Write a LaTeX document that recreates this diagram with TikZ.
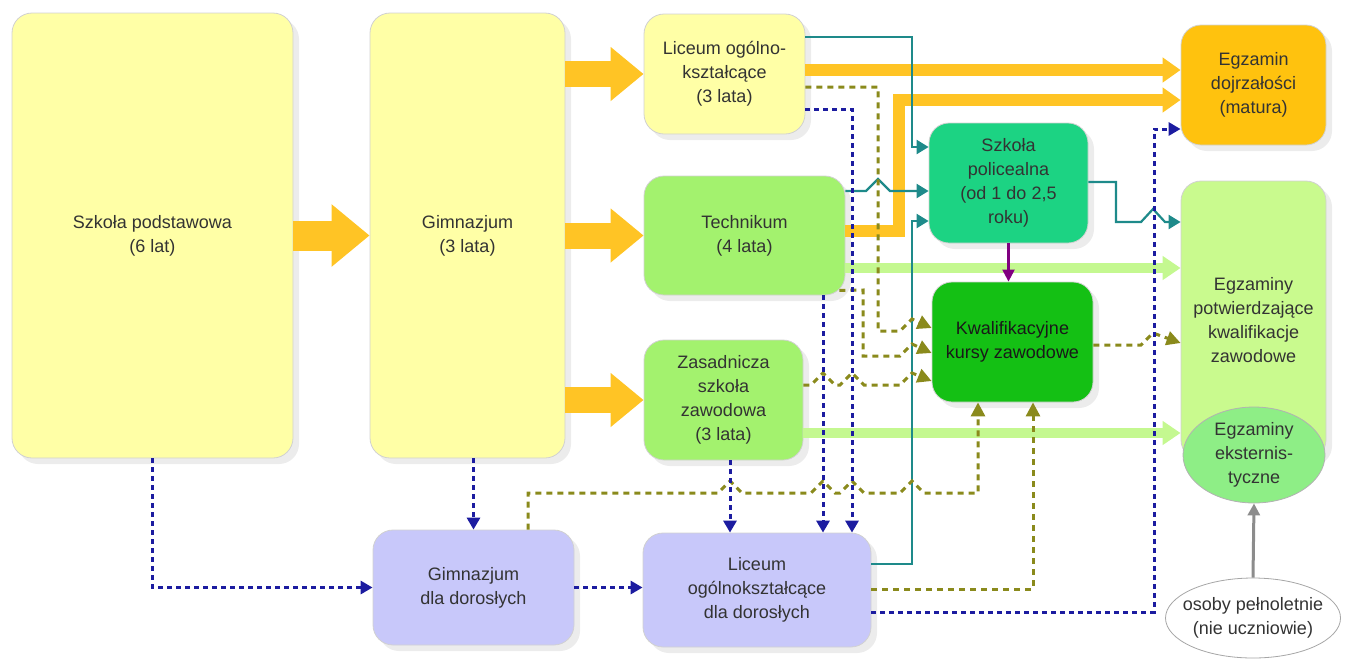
\documentclass[tikz,border=0pt]{standalone}
\usepackage{fontspec}
\setmainfont{Liberation Sans}
\usetikzlibrary{arrows.meta, shapes.geometric, shadows}

\definecolor{schoolyellow}{HTML}{FFFFA6}
\definecolor{schoolgreen}{HTML}{A3F26E}
\definecolor{policgreen}{HTML}{1CD383}
\definecolor{kursgreen}{HTML}{14C014}
\definecolor{maturaorange}{HTML}{FFC20E}
\definecolor{examgreen}{HTML}{C9FA8E}
\definecolor{extgreen}{HTML}{8EEE86}
\definecolor{adultblue}{HTML}{C8C8FA}
\definecolor{arroworange}{HTML}{FFC425}
\definecolor{arrowgreen}{HTML}{C4F890}
\definecolor{tealline}{HTML}{1E8A8A}
\definecolor{navyline}{HTML}{1C1CA0}
\definecolor{oliveline}{HTML}{8A8A1C}

\tikzset{
    stage/.style={draw=black!18, rounded corners=10pt, align=center, inner sep=0pt,
        text=black!80, font=\fontsize{9}{12}\selectfont,
        drop shadow={shadow xshift=3pt, shadow yshift=-3pt, opacity=0.15}},
    oval/.style={ellipse, draw=black!35, align=center, inner sep=0pt,
        text=black!80, font=\fontsize{9}{12}\selectfont},
    feedarrow/.style={line width=13pt, arroworange, -{Triangle[length=16.5pt, width=26pt]}},
    examarrow/.style={line width=6pt, arroworange, -{Triangle[length=9pt, width=12pt]}},
    passarrow/.style={line width=5pt, arrowgreen, -{Triangle[length=9pt, width=11.5pt]}},
    tealpath/.style={line width=1.1pt, tealline, -{Triangle[length=6pt, width=7pt]}},
    navypath/.style={line width=1.5pt, navyline, dash pattern=on 2.5pt off 2pt, -{Triangle[length=6pt, width=6.5pt]}},
    olivepath/.style={line width=1.5pt, oliveline, dash pattern=on 3pt off 2.5pt, -{Triangle[length=7pt, width=7pt]}}
}

\begin{document}
\begin{tikzpicture}[x=0.5pt, y=-0.5pt]
    \useasboundingbox (0,0) rectangle (1349,660);

    % Day schools
    \node[stage, fill=schoolyellow, minimum width=140.5pt, minimum height=222.5pt] (podst) at (152.5,235.5) {Szkoła podstawowa\\(6 lat)};
    \node[stage, fill=schoolyellow, minimum width=97.5pt, minimum height=222.5pt] (gim) at (467.5,235.5) {Gimnazjum\\(3 lata)};
    \node[stage, fill=schoolyellow, minimum width=80.5pt, minimum height=60pt] (lic) at (724.5,74) {Liceum ogólno-\\kształcące\\(3 lata)};
    \node[stage, fill=schoolgreen, minimum width=100.5pt, minimum height=59.5pt] (tech) at (744.5,235.5) {Technikum\\(4 lata)};
    \node[stage, fill=schoolgreen, minimum width=79.5pt, minimum height=60pt] (zsz) at (723.5,400) {Zasadnicza\\szkoła\\zawodowa\\(3 lata)};
    \node[stage, fill=policgreen, minimum width=79.5pt, minimum height=60pt] (polic) at (1008.5,183) {Szkoła\\policealna\\(od 1 do 2,5\\roku)};
    \node[stage, fill=kursgreen, text=black!90, minimum width=80.5pt, minimum height=60pt] (kkz) at (1012.5,342) {Kwalifikacyjne\\kursy zawodowe};

    % Exams
    \node[stage, fill=maturaorange, minimum width=72.5pt, minimum height=60pt] (matura) at (1253.5,85) {Egzamin\\dojrzałości\\(matura)};
    \node[stage, fill=examgreen, minimum width=72.5pt, minimum height=139.5pt] (egzzaw) at (1253.5,320.5) {Egzaminy\\potwierdzające\\kwalifikacje\\zawodowe};
    \node[oval, fill=extgreen, draw=black!30, minimum width=71pt, minimum height=48pt] (ekst) at (1254,455) {Egzaminy\\eksternis-\\tyczne};
    \node[oval, fill=white, inner xsep=-7pt, minimum width=87.5pt, minimum height=40pt] (osoby) at (1253,618) {osoby pełnoletnie\\(nie uczniowie)};

    % Schools for adults
    \node[stage, fill=adultblue, minimum width=100.5pt, minimum height=57.5pt] (gimdor) at (473.5,587.5) {Gimnazjum\\dla dorosłych};
    \node[stage, fill=adultblue, minimum width=114pt, minimum height=57pt] (licdor) at (757,590) {Liceum\\ogólnokształcące\\dla dorosłych};

    % Main path
    \draw[feedarrow, line width=15pt, -{Triangle[length=19pt, width=30pt]}] (podst.east) -- (gim.west);
    \draw[feedarrow] (gim.east |- lic.west) -- (lic.west);
    \draw[feedarrow] (gim.east |- tech.west) -- (tech.west);
    \draw[feedarrow] (gim.east |- zsz.west) -- (zsz.west);
    \draw[examarrow] (lic.east |- 0,70) -- (matura.west |- 0,70);
    \draw[examarrow] (tech.east |- 0,231) -- (899,231) -- (899,100) -- (matura.west |- 0,100);
    \draw[passarrow] (tech.east |- 0,268) -- (egzzaw.west |- 0,268);
    \draw[passarrow] (zsz.east |- 0,433) -- (egzzaw.west |- 0,433);

    % Post-secondary school
    \draw[tealpath] (lic.east |- 0,37) -- (912,37) -- (912,147) -- (polic.west |- 0,147);
    \draw[tealpath] (tech.east |- 0,191) -- (866,191) -- (878,179) -- (890,191) -- (polic.west |- 0,191);
    \draw[tealpath] (licdor.east |- 0,564) -- (912,564) -- (912,221) -- (polic.west |- 0,221);
    \draw[tealpath] (polic.east |- 0,182) -- (1116,182) -- (1116,222) -- (1141,222) -- (1153,209) -- (1165,222) -- (egzzaw.west |- 0,222);
    \draw[line width=1.1pt, violet, -{Triangle[length=6pt, width=6pt]}] (polic.south) -- (polic.south |- kkz.north);

    % Vocational courses
    \draw[olivepath] (lic.east |- 0,87) -- (878,87) -- (878,331) -- (900,331) -- (912,319) -- (kkz.west |- 0,328);
    \draw[olivepath] ([xshift=-3pt, yshift=2.5pt]tech.south east) -- (863,290) -- (863,356) -- (900,356) -- (912,344) -- (kkz.west |- 0,353);
    \draw[olivepath] (zsz.east |- 0,385) -- (811,385) -- (823,373) -- (835,385) -- (840,385) -- (852,373) -- (864,385)
        -- (900,385) -- (912,373) -- (kkz.west |- 0,381);
    \draw[olivepath] (gimdor.north -| 528,0) -- (528,493) -- (718,493) -- (730,481) -- (742,493) -- (811,493) -- (823,481)
        -- (835,493) -- (840,493) -- (852,481) -- (864,493) -- (900,493) -- (912,481) -- (924,493) -- (978,493) -- (kkz.south -| 978,0);
    \draw[olivepath] (licdor.east |- 0,589) -- (1033,589) -- (kkz.south -| 1033,0);
    \draw[olivepath] (kkz.east |- 0,345) -- (1141,345) -- (1153,333) -- (egzzaw.west |- 0,343);

    % Adult education
    \draw[navypath] (podst.south) -- (podst.south |- gimdor.west) -- (gimdor.west);
    \draw[navypath] (gimdor.north |- gim.south) -- (gimdor.north);
    \draw[navypath] (gimdor.east) -- (licdor.west |- gimdor.east);
    \draw[navypath] (zsz.south -| 730,0) -- (licdor.north -| 730,0);
    \draw[navypath] (tech.south -| 823,0) -- (licdor.north -| 823,0);
    \draw[navypath] (lic.east |- 0,109) -- (852,109) -- (licdor.north -| 852,0);
    \draw[navypath] (licdor.east |- 0,612) -- (1154,612) -- (1154,129) -- (matura.west |- 0,129);

    % External exams
    \draw[line width=1.5pt, black!45, -{Triangle[length=6pt, width=6pt]}] (osoby.north) -- (ekst.south);
\end{tikzpicture}
\end{document}
